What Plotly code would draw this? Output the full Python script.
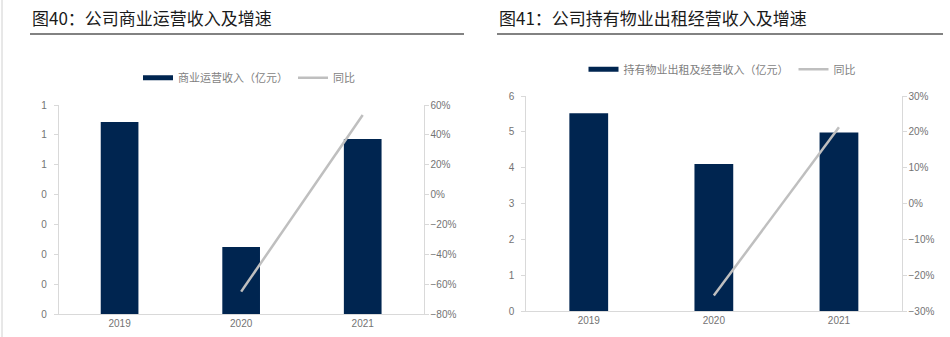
import plotly.graph_objects as go

# ---- data ----
years = ["2019", "2020", "2021"]

# chart 40
rev_commercial = [0.643, 0.224, 0.586]          # 亿元
yoy_commercial = [None, -0.65, 0.533]
left_tickvals = [0, 0.1, 0.2, 0.3, 0.4, 0.5, 0.6, 0.7]
left_ticktext = ["0", "0", "0", "0", "0", "1", "1", "1"]

# chart 41
rev_property = [5.52, 4.10, 4.98]               # 亿元
yoy_property = [None, -0.257, 0.213]

title_left = "图40：公司商业运营收入及增速"
title_right = "图41：公司持有物业出租经营收入及增速"
name_bar_left = "商业运营收入（亿元）"
name_bar_right = "持有物业出租及经营收入（亿元）"
name_line = "同比"

NAVY = "#002550"
GREY_LINE = "#bfbfbf"
AXIS = "#d9d9d9"
TICKC = "#737373"
W, H = 950, 337

fig = go.Figure()

# left chart
fig.add_trace(go.Scatter(x=[None], y=[None], mode="lines", name=name_bar_left,
                         line=dict(color=NAVY, width=5), xaxis="x", yaxis="y",
                         legend="legend", hoverinfo="skip"))
fig.add_trace(go.Bar(x=years, y=rev_commercial, marker=dict(color=NAVY, line=dict(width=0)),
                     width=0.31, xaxis="x", yaxis="y", showlegend=False, name=name_bar_left))
fig.add_trace(go.Scatter(x=years, y=yoy_commercial, mode="lines", name=name_line,
                         line=dict(color=GREY_LINE, width=2.5), xaxis="x", yaxis="y2",
                         legend="legend"))

# right chart
fig.add_trace(go.Scatter(x=[None], y=[None], mode="lines", name=name_bar_right,
                         line=dict(color=NAVY, width=5), xaxis="x2", yaxis="y3",
                         legend="legend2", hoverinfo="skip"))
fig.add_trace(go.Bar(x=years, y=rev_property, marker=dict(color=NAVY, line=dict(width=0)),
                     width=0.31, xaxis="x2", yaxis="y3", showlegend=False, name=name_bar_right))
fig.add_trace(go.Scatter(x=years, y=yoy_property, mode="lines", name=name_line,
                         line=dict(color=GREY_LINE, width=2.5), xaxis="x2", yaxis="y4",
                         legend="legend2"))

tickfont = dict(family="Liberation Sans, Arial, sans-serif", size=10, color=TICKC)

def px_x(p):
    return p / W

def px_y(p):
    return 1 - p / H

xcommon = dict(type="category", showline=True, linecolor=AXIS, linewidth=1, automargin=False,
               ticks="", tickfont=tickfont, showgrid=False, zeroline=False, fixedrange=True)
ycommon = dict(showline=True, linecolor=AXIS, linewidth=1, ticks="outside", ticklen=4,
               automargin=False, tickcolor=AXIS, tickfont=tickfont, showgrid=False,
               zeroline=False)

fig.update_layout(
    width=W, height=H,
    margin=dict(l=0, r=0, t=0, b=0, pad=0, autoexpand=False),
    paper_bgcolor="white", plot_bgcolor="white",
    xaxis=dict(domain=[px_x(58.8), px_x(423.5)], anchor="y", **xcommon),
    yaxis=dict(domain=[px_y(314), px_y(105)], anchor="x", range=[0, 0.7],
               tickvals=left_tickvals, ticktext=left_ticktext, ticklabelstandoff=5, **ycommon),
    yaxis2=dict(overlaying="y", side="right", anchor="x", range=[-0.8, 0.6], dtick=0.2,
                tick0=0, tickformat=".0%", **ycommon),
    xaxis2=dict(domain=[px_x(526.2), px_x(901.5)], anchor="y3", **xcommon),
    yaxis3=dict(domain=[px_y(311), px_y(96)], anchor="x2", range=[0, 6], dtick=1,
                ticklabelstandoff=5, **ycommon),
    yaxis4=dict(overlaying="y3", side="right", anchor="x2", range=[-0.3, 0.3], dtick=0.1,
                tick0=0, tickformat=".0%", **ycommon),
    legend=dict(orientation="h", x=px_x(249), y=px_y(77.7), xanchor="center", yanchor="middle",
                font=dict(family="Noto Sans CJK SC", size=11, color="#7f7f7f"),
                bgcolor="rgba(0,0,0,0)", itemwidth=30, tracegroupgap=0),
    legend2=dict(orientation="h", x=px_x(722), y=px_y(69.3), xanchor="center", yanchor="middle",
                 font=dict(family="Noto Sans CJK SC", size=11, color="#7f7f7f"),
                 bgcolor="rgba(0,0,0,0)", itemwidth=30, tracegroupgap=0),
    showlegend=True,
)

# titles
for txt, x0 in [(title_left, 30), (title_right, 497)]:
    fig.add_annotation(text=txt, xref="paper", yref="paper", x=px_x(x0), y=px_y(18),
                       xanchor="left", yanchor="middle", showarrow=False,
                       font=dict(family="Noto Sans CJK SC", size=17, color="#1a1a1a"))

# title underlines and left border
fig.add_shape(type="line", xref="paper", yref="paper", x0=px_x(30), x1=px_x(464),
              y0=px_y(34), y1=px_y(34), line=dict(color="#595959", width=1.5))
fig.add_shape(type="line", xref="paper", yref="paper", x0=px_x(497), x1=px_x(943),
              y0=px_y(34), y1=px_y(34), line=dict(color="#595959", width=1.5))
fig.add_shape(type="line", xref="paper", yref="paper", x0=px_x(2), x1=px_x(2),
              y0=0, y1=1, line=dict(color="#d0d0d0", width=1))

fig.write_html("out.html")
